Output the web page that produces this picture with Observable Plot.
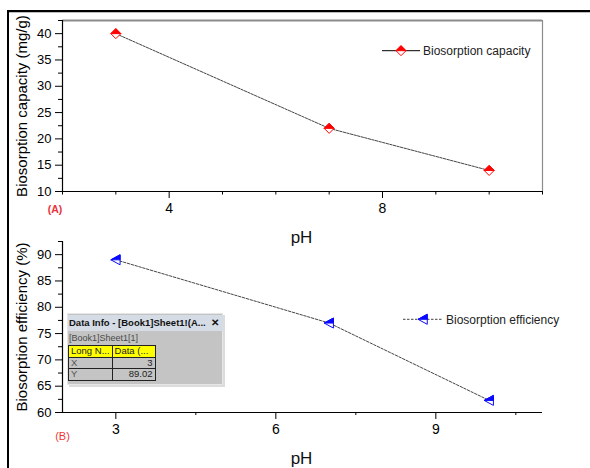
<!DOCTYPE html>
<html>
<head>
<meta charset="utf-8">
<script src="https://cdn.jsdelivr.net/npm/d3@7"></script>
<script src="https://cdn.jsdelivr.net/npm/@observablehq/plot@0.6"></script>
<style>
  html, body { margin: 0; padding: 0; background: #fff; }
  body { font-family: "Liberation Sans", Arial, sans-serif; }
  #wrap { position: relative; width: 590px; height: 468px; overflow: hidden; background: #fff; }
  #wrap svg { position: absolute; left: 0; }
  #frame { position: absolute; left: 7px; top: 10px; width: 600px; height: 470px;
           border-left: 2px solid #000; border-top: 2px solid #000; box-sizing: border-box; }
  #frame2 { position: absolute; left: 9px; top: 12px; width: 600px; height: 1px; background: #bdbdbd; }
  #info { position: absolute; left: 67px; top: 313px; width: 156px; height: 72px;
          background: #c4c4c4; border: 1px solid #e6e6e6; box-sizing: border-box;
          box-shadow: 2px 2px 0 #dcdcdc; font-family: "Liberation Sans", Arial, sans-serif; }
  #info .bar { position: absolute; left: 0; top: 1px; width: 154px; height: 16px; background: #d5dce5;
               font-weight: bold; font-size: 9.5px; line-height: 16px; color: #111; padding-left: 1px; white-space: nowrap; }
  #info .bar span { position: absolute; right: 4px; top: 0; font-size: 10px; }
  #info .sub { position: absolute; left: 1px; top: 19px; font-size: 9px; color: #4a4a4a; white-space: nowrap; }
  #info table { position: absolute; left: 0px; top: 31px; border-collapse: collapse; font-size: 9.5px; }
  #info td { border: 1px solid #222; height: 10.5px; padding: 0 2px; line-height: 10px; width: 38px; white-space: nowrap; }
  #info td.h { background: #ffff00; color: #222; }
  #info td.k { color: #555; }
  #info td.v { text-align: right; color: #222; }
</style>
</head>
<body>
<div id="wrap">
  <div id="frame"></div>
  <div id="frame2"></div>
</div>
<script>
// ---- data ----
const pH = [3, 7, 10];
const capacity = [40, 22, 14];
const efficiency = [89.02, 77, 62.3];

const capMajor = [10, 15, 20, 25, 30, 35, 40];
const capMinor = [12.5, 17.5, 22.5, 27.5, 32.5, 37.5, 42.5];
const pHMajorA = [4, 8];
const pHMinorA = [2, 3, 5, 6, 7, 9, 10, 11];

const effMajor = [60, 65, 70, 75, 80, 85, 90];
const effMinor = [62.5, 67.5, 72.5, 77.5, 82.5, 87.5, 92.5];
const pHMajorB = [3, 6, 9];
const pHMinorB = [4.5, 7.5, 10.5];

const labelCap = "Biosorption capacity (mg/g)";
const labelEff = "Biosorption efficiency (%)";
const legendCap = "Biosorption capacity";
const legendEff = "Biosorption efficiency";
const xLabel = "pH";

const capRows = pH.map((p, i) => ({pH: p, v: capacity[i]}));
const effRows = pH.map((p, i) => ({pH: p, v: efficiency[i]}));

// ---- custom half-filled symbols ----
function pathDiamond(ctx, r, half) {
  ctx.moveTo(-r, 0); ctx.lineTo(0, -r); ctx.lineTo(r, 0);
  if (!half) ctx.lineTo(0, r);
  ctx.closePath();
}
function pathTriLeft(ctx, r, half) {
  const b = r * 0.85;
  ctx.moveTo(-r, 0); ctx.lineTo(b, -r); ctx.lineTo(b, half ? 0 : r);
  ctx.closePath();
}
const sym = (fn, half) => ({ draw(ctx, size) { fn(ctx, Math.sqrt(size / Math.PI), half); } });
const diamondFull = sym(pathDiamond, false);
const diamondTop = sym(pathDiamond, true);
const triFull = sym(pathTriLeft, false);
const triTop = sym(pathTriLeft, true);

function symPath(fn, r, half) { const p = d3.path(); fn(p, r, half); return p.toString(); }

const RED = "#ff0000", BLUE = "#0a0aff";
const style = { fontFamily: "'Liberation Sans', Arial, sans-serif", fontSize: "13px", color: "#000", background: "transparent", overflow: "visible" };
const wrap = document.getElementById("wrap");

// ---- panel A ----
const plotA = Plot.plot({
  width: 590, height: 250,
  marginLeft: 62, marginRight: 48, marginTop: 20, marginBottom: 59,
  style,
  x: { domain: [2, 11] },
  y: { domain: [10, 42.5] },
  marks: [
    Plot.axisY({ ticks: capMajor, tickSize: 7, tickPadding: 4, fontSize: 13, label: null }),
    Plot.axisY({ ticks: capMinor, tickSize: 4, tickFormat: () => "", label: null }),
    Plot.axisX({ ticks: pHMajorA, tickSize: 7, tickPadding: 5, fontSize: 14, label: null }),
    Plot.axisX({ ticks: pHMinorA, tickSize: 3.5, tickFormat: () => "", label: null }),
    Plot.ruleY([42.5], { stroke: "#8c8c8c", strokeWidth: 2 }),
    Plot.ruleX([11], { stroke: "#8c8c8c", strokeWidth: 1.2 }),
    Plot.ruleX([2], { stroke: "#000", strokeWidth: 1.2 }),
    Plot.ruleY([10], { stroke: "#000", strokeWidth: 1.2 }),
    Plot.line(capRows, { x: "pH", y: "v", stroke: "#444", strokeWidth: 1, strokeDasharray: "2.5,1.2" }),
    Plot.dot(capRows, { x: "pH", y: "v", symbol: diamondFull, r: 5, fill: "#fff", stroke: RED, strokeWidth: 1 }),
    Plot.dot(capRows, { x: "pH", y: "v", symbol: diamondTop, r: 5, fill: RED, stroke: RED, strokeWidth: 1 }),
    Plot.text([labelCap], { frameAnchor: "left", textAnchor: "middle", lineAnchor: "middle", dx: -40, rotate: -90, fontSize: 15, fill: "#000" })
  ]
});
plotA.style.top = "0px";
wrap.appendChild(plotA);

// ---- panel B ----
const plotB = Plot.plot({
  width: 590, height: 238,
  marginLeft: 62, marginRight: 48, marginTop: 11, marginBottom: 56,
  style,
  x: { domain: [2, 11] },
  y: { domain: [60, 92.5] },
  marks: [
    Plot.axisY({ ticks: effMajor, tickSize: 7, tickPadding: 4, fontSize: 13, label: null }),
    Plot.axisY({ ticks: effMinor, tickSize: 4, tickFormat: () => "", label: null }),
    Plot.axisX({ ticks: pHMajorB, tickSize: 7, tickPadding: 5, fontSize: 14, label: null }),
    Plot.axisX({ ticks: pHMinorB, tickSize: 3, tickFormat: () => "", label: null }),
    Plot.ruleX([2], { stroke: "#000", strokeWidth: 1.2 }),
    Plot.ruleY([60], { stroke: "#000", strokeWidth: 1.2 }),
    Plot.line(effRows, { x: "pH", y: "v", stroke: "#444", strokeWidth: 1, strokeDasharray: "2.5,1.5" }),
    Plot.dot(effRows, { x: "pH", y: "v", symbol: triFull, r: 5, fill: "#fff", stroke: BLUE, strokeWidth: 1 }),
    Plot.dot(effRows, { x: "pH", y: "v", symbol: triTop, r: 5, fill: BLUE, stroke: BLUE, strokeWidth: 1 }),
    Plot.text([labelEff], { frameAnchor: "left", textAnchor: "middle", lineAnchor: "middle", dx: -40, rotate: -90, fontSize: 15, fill: "#000" })
  ]
});
plotB.style.top = "230px";
wrap.appendChild(plotB);

// ---- annotations: legends, panel tags, x titles ----
function addLegend(svg, y, x0, x1, xm, text, dash, fn, color) {
  const g = d3.select(svg).append("g");
  g.append("line").attr("x1", x0).attr("x2", x1).attr("y1", y).attr("y2", y)
    .attr("stroke", dash ? "#444" : "#000").attr("stroke-width", 1).attr("stroke-dasharray", dash || null);
  g.append("path").attr("d", symPath(fn, 5, false)).attr("transform", `translate(${xm},${y})`)
    .attr("fill", "#fff").attr("stroke", color);
  g.append("path").attr("d", symPath(fn, 5, true)).attr("transform", `translate(${xm},${y})`)
    .attr("fill", color).attr("stroke", color);
  g.append("text").attr("x", x1 + 3).attr("y", y).attr("dy", "0.36em").attr("text-anchor", "start")
    .attr("font-size", 12).attr("fill", "#222").text(text);
}
addLegend(plotA, 50.7, 382, 420, 401, legendCap, null, pathDiamond, RED);
addLegend(plotB, 89.3, 403, 443, 423, legendEff, "2.5,1.5", pathTriLeft, BLUE);

function addText(svg, x, y, t, opts) {
  const s = d3.select(svg).append("text").attr("x", x).attr("y", y).attr("text-anchor", "middle").text(t);
  for (const k in opts) s.attr(k, opts[k]);
}
addText(plotA, 55, 212.5, "(A)", { "font-size": 10.5, "font-weight": "bold", fill: "#e8323c" });
addText(plotB, 62.5, 210, "(B)", { "font-size": 11, fill: "#f03535" });
addText(plotA, 301.5, 243, xLabel, { "font-size": 17, fill: "#111" });
addText(plotB, 301.5, 234.3, xLabel, { "font-size": 17, fill: "#111" });

// ---- Data Info tooltip window (screen overlay in the reference) ----
const info = document.createElement("div");
info.id = "info";
info.innerHTML =
  '<div class="bar">Data Info - [Book1]Sheet1!(A...<span>✕</span></div>' +
  '<div class="sub">[Book1]Sheet1[1]</div>' +
  '<table><tr><td class="h">Long N...</td><td class="h">Data (...</td></tr>' +
  '<tr><td class="k">X</td><td class="v">' + pH[0] + '</td></tr>' +
  '<tr><td class="k">Y</td><td class="v">' + efficiency[0].toFixed(2) + '</td></tr></table>';
wrap.appendChild(info);
</script>
</body>
</html>
